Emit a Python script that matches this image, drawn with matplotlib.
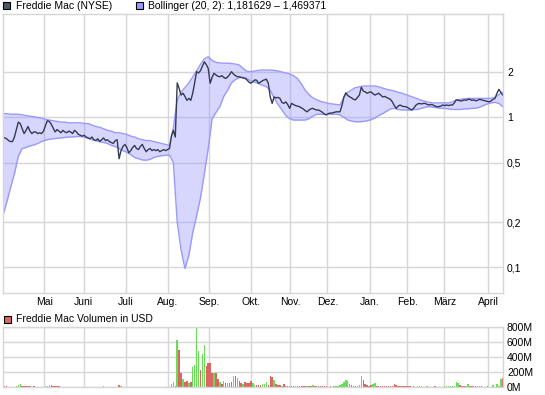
import numpy as np
import matplotlib.pyplot as plt
from matplotlib.patches import Rectangle
from matplotlib.ticker import NullLocator, FixedLocator

plt.rcParams['font.family'] = ['Liberation Sans', 'DejaVu Sans']

# month labels and their position on the trading-day axis
months = ['Mai', 'Juni', 'Juli', 'Aug.', 'Sep.', 'Okt.', 'Nov.', 'Dez.',
          'Jan.', 'Feb.', 'März', 'April']
month_pos = [21.5, 41.7, 63.4, 85.2, 106.4, 127.9, 148.3, 167.5,
             189.5, 208.7, 227.9, 250.5]

price_ticks = [0.1, 0.2, 0.5, 1, 2]
price_labels = ['0,1', '0,2', '0,5', '1', '2']
vol_ticks = [0, 200, 400, 600, 800]
vol_labels = ['0M', '200M', '400M', '600M', '800M']

# daily close (USD)
price = [
    0.74, 0.73, 0.72, 0.70, 0.69, 0.69, 0.74, 0.83, 0.93, 0.91,
    0.84, 0.78, 0.82, 0.87, 0.81, 0.78, 0.80, 0.80, 0.78, 0.79,
    0.78, 0.81, 0.88, 0.95, 0.94, 0.90, 0.85, 0.80, 0.83, 0.81,
    0.79, 0.82, 0.80, 0.79, 0.81, 0.80, 0.78, 0.82, 0.80, 0.77,
    0.76, 0.75, 0.76, 0.74, 0.73, 0.72, 0.74, 0.71, 0.70, 0.72,
    0.69, 0.71, 0.73, 0.70, 0.71, 0.69, 0.68, 0.67, 0.70, 0.71,
    0.53, 0.60, 0.64, 0.66, 0.63, 0.58, 0.60, 0.63, 0.65, 0.62,
    0.61, 0.64, 0.66, 0.62, 0.59, 0.61, 0.62, 0.60, 0.61, 0.60,
    0.61, 0.59, 0.60, 0.61, 0.60, 0.61, 0.62, 0.75, 0.82, 0.74,
    1.70, 1.56, 1.41, 1.45, 1.38, 1.30, 1.34, 1.30, 1.45, 1.70,
    2.02, 1.98, 2.05, 2.20, 2.35, 2.25, 2.12, 1.69, 1.85, 1.97,
    1.92, 1.88, 1.87, 1.90, 1.85, 1.82, 1.86, 1.93, 2.02, 1.95,
    1.90, 1.87, 1.87, 1.85, 1.83, 1.82, 1.78, 1.72, 1.69, 1.73,
    1.78, 1.77, 1.69, 1.72, 1.76, 1.78, 1.80, 1.69, 1.37, 1.24,
    1.37, 1.35, 1.36, 1.34, 1.26, 1.24, 1.27, 1.22, 1.15, 1.24,
    1.22, 1.20, 1.19, 1.18, 1.16, 1.14, 1.11, 1.09, 1.12, 1.14,
    1.15, 1.13, 1.12, 1.12, 1.10, 1.08, 1.05, 1.04, 1.06, 1.07,
    1.07, 1.08, 1.09, 1.09, 1.09, 1.20, 1.37, 1.46, 1.40, 1.37,
    1.35, 1.32, 1.31, 1.36, 1.41, 1.59, 1.50, 1.48, 1.45, 1.47,
    1.48, 1.44, 1.41, 1.43, 1.45, 1.41, 1.37, 1.38, 1.36, 1.34,
    1.32, 1.27, 1.20, 1.15, 1.19, 1.21, 1.19, 1.18, 1.18, 1.16,
    1.14, 1.12, 1.15, 1.20, 1.23, 1.24, 1.23, 1.24, 1.24, 1.22,
    1.21, 1.22, 1.21, 1.19, 1.18, 1.18, 1.19, 1.21, 1.20, 1.21,
    1.20, 1.21, 1.21, 1.25, 1.31, 1.30, 1.29, 1.29, 1.31, 1.30,
    1.32, 1.32, 1.30, 1.31, 1.29, 1.30, 1.32, 1.31, 1.30, 1.29,
    1.28, 1.27, 1.29, 1.32, 1.34, 1.45, 1.54, 1.47, 1.41,
]

# Bollinger (20, 2) bands, read every second trading day
band_step = 2
upper = [
    1.06, 1.06, 1.05, 1.05, 1.05, 1.04, 1.03, 1.02, 1.01, 1.00,
    0.99, 0.97, 0.96, 0.95, 0.94, 0.93, 0.93, 0.92, 0.92, 0.92,
    0.92, 0.91, 0.91, 0.89, 0.87, 0.86, 0.84, 0.82, 0.81, 0.79,
    0.79, 0.78, 0.77, 0.75, 0.74, 0.72, 0.71, 0.70, 0.70, 0.69,
    0.68, 0.67, 0.66, 0.65, 0.85, 1.30, 1.48, 1.58, 1.70, 1.86,
    2.05, 2.26, 2.46, 2.54, 2.40, 2.33, 2.31, 2.30, 2.30, 2.29,
    2.27, 2.24, 2.12, 2.03, 2.02, 2.04, 2.06, 2.07, 2.07, 2.07,
    2.06, 2.04, 2.01, 1.98, 1.95, 1.90, 1.82, 1.68, 1.52, 1.42,
    1.35, 1.31, 1.28, 1.26, 1.24, 1.23, 1.22, 1.21, 1.35, 1.47,
    1.53, 1.58, 1.60, 1.62, 1.62, 1.62, 1.62, 1.60, 1.57, 1.54,
    1.52, 1.50, 1.47, 1.45, 1.42, 1.39, 1.36, 1.33, 1.30, 1.28,
    1.26, 1.25, 1.25, 1.25, 1.25, 1.25, 1.27, 1.31, 1.32, 1.33,
    1.34, 1.34, 1.34, 1.34, 1.34, 1.34, 1.34, 1.36, 1.42, 1.47,
]
lower = [
    0.22, 0.27, 0.34, 0.42, 0.55, 0.62, 0.63, 0.645, 0.655, 0.67,
    0.69, 0.705, 0.715, 0.72, 0.725, 0.73, 0.735, 0.74, 0.74, 0.745,
    0.745, 0.74, 0.725, 0.71, 0.70, 0.69, 0.68, 0.67, 0.65, 0.64,
    0.62, 0.60, 0.585, 0.565, 0.54, 0.53, 0.52, 0.518, 0.525, 0.54,
    0.55, 0.555, 0.56, 0.56, 0.50, 0.20, 0.13, 0.098, 0.12, 0.17,
    0.22, 0.29, 0.42, 0.62, 0.98, 1.08, 1.18, 1.38, 1.52, 1.70,
    1.79, 1.84, 1.86, 1.82, 1.75, 1.72, 1.68, 1.64, 1.60, 1.52,
    1.35, 1.22, 1.12, 1.03, 0.98, 0.96, 0.96, 0.96, 0.96, 0.98,
    1.02, 1.05, 1.05, 1.05, 1.05, 1.05, 1.05, 1.04, 1.00, 0.96,
    0.945, 0.935, 0.935, 0.94, 0.95, 0.965, 0.99, 1.03, 1.06, 1.10,
    1.14, 1.15, 1.13, 1.12, 1.12, 1.12, 1.13, 1.13, 1.15, 1.17,
    1.18, 1.17, 1.16, 1.15, 1.15, 1.14, 1.13, 1.13, 1.13, 1.14,
    1.14, 1.15, 1.15, 1.17, 1.20, 1.23, 1.25, 1.26, 1.24, 1.18,
]

# volume in million USD, g = up day, r = down day
volume = [
    13, 12, 12, 0, 0, 0, 0, 16, 22, 38,
    14, 12, 12, 12, 10, 0, 12, 0, 0, 0,
    0, 0, 10, 13, 27, 22, 14, 12, 12, 12,
    0, 0, 0, 0, 0, 0, 0, 0, 0, 0,
    0, 0, 0, 0, 0, 0, 0, 0, 0, 0,
    0, 0, 15, 0, 0, 0, 0, 0, 0, 0,
    31, 12, 0, 0, 0, 0, 0, 0, 0, 0,
    0, 0, 0, 0, 0, 0, 0, 0, 0, 0,
    0, 0, 0, 0, 0, 0, 0, 44, 62, 13,
    627, 493, 191, 102, 67, 76, 58, 67, 267, 289,
    791, 480, 227, 436, 560, 280, 324, 324, 187, 187,
    187, 111, 67, 44, 80, 58, 58, 58, 71, 147,
    147, 124, 80, 58, 36, 67, 58, 58, 80, 49,
    27, 27, 27, 27, 36, 44, 62, 27, 147, 138,
    89, 44, 27, 27, 18, 40, 18, 18, 18, 18,
    18, 18, 18, 18, 18, 18, 18, 18, 12, 12,
    27, 18, 18, 18, 18, 12, 12, 12, 0, 12,
    0, 12, 12, 18, 27, 44, 67, 93, 80, 36,
    27, 18, 12, 18, 27, 147, 93, 44, 27, 18,
    27, 36, 58, 18, 18, 18, 18, 18, 18, 18,
    18, 18, 40, 27, 18, 12, 12, 12, 18, 12,
    12, 0, 12, 0, 12, 18, 12, 0, 0, 12,
    0, 0, 0, 12, 0, 0, 0, 0, 12, 12,
    12, 18, 12, 18, 71, 58, 27, 18, 12, 18,
    44, 18, 18, 12, 12, 12, 12, 12, 0, 0,
    12, 0, 0, 27, 0, 36, 12, 102, 116,
]
vol_dir = ("rrr....ggg" "rrrrr.r..." "..gggrrrrr" ".........." ".........."
           "..g......." "rg........" ".........." ".......ggr" "grrgrrgrgg"
           "ggrggrrrrg" "rrgrgrgrrg" "rgrrgrrrrg" "grrrgggrrr" "grrrgrrrgr"
           "rgrrrrrgrr" "grgrrrrr.r" ".ggggggggg" "rrrgggrrrr" "rggrrrrrrr"
           "rrrrrrrrrr" "r.r.ggg..g" "...r....gg" "ggggggrrrg" "grrgrggr.."
           "r..g.gggr")

W, H = 545, 395
fig = plt.figure(figsize=(W / 100, H / 100), dpi=100)
ax = fig.add_axes([2.8 / W, 1 - 293.3 / H, 500 / W, 279.3 / H])
axv = fig.add_axes([2.8 / W, 1 - 387 / H, 500 / W, 60 / H])

grid_c = '#d6d6d6'
for a in (ax, axv):
    for s in a.spines.values():
        s.set_color(grid_c)
        s.set_linewidth(1)
    a.grid(True, color=grid_c, linewidth=1)
    a.set_axisbelow(True)
    a.yaxis.tick_right()
    a.tick_params(length=0, labelsize=7.5, colors='black', pad=3)
    a.xaxis.set_major_locator(FixedLocator(month_pos))
    a.set_xlim(0, len(price) - 1)

days = np.arange(len(price))
band_x = np.arange(0, len(price), band_step)

# price panel
ax.fill_between(band_x, lower, upper, color='#9999ff', alpha=0.4, lw=0)
ax.plot(band_x, upper, color='#9999ff', lw=1)
ax.plot(band_x, lower, color='#9999ff', lw=1)
ax.plot(days, price, color='#343c50', lw=1)
ax.set_yscale('log')
ax.set_ylim(0.067, 4.9)
ax.yaxis.set_major_locator(FixedLocator(price_ticks))
ax.yaxis.set_minor_locator(NullLocator())
ax.set_yticklabels(price_labels)
ax.set_xticklabels(months)

# volume panel
colors = ['#66dd55' if d == 'g' else '#dd6464' for d in vol_dir]
axv.bar(days, volume, width=0.75, color=colors, lw=0)
axv.set_ylim(0, 800)
axv.yaxis.set_major_locator(FixedLocator(vol_ticks))
axv.set_yticklabels(vol_labels)
axv.set_xticklabels([])

# legends
def legend_box(x, y, color, text):
    fig.add_artist(Rectangle((x / W, 1 - (y + 7) / H), 7 / W, 7 / H,
                             transform=fig.transFigure, facecolor=color,
                             edgecolor='black', lw=0.8))
    fig.text((x + 12.5) / W, 1 - (y + 3.8) / H, text, fontsize=7.5,
             va='center', ha='left')

legend_box(3, 2, '#4e586c', 'Freddie Mac (NYSE)')
legend_box(136, 2, '#9999ff', 'Bollinger (20, 2): 1,181629 \u2013 1,469371')
legend_box(3.5, 315.5, '#d86a6a', 'Freddie Mac Volumen in USD')

fig.savefig('out.png', dpi=100)
